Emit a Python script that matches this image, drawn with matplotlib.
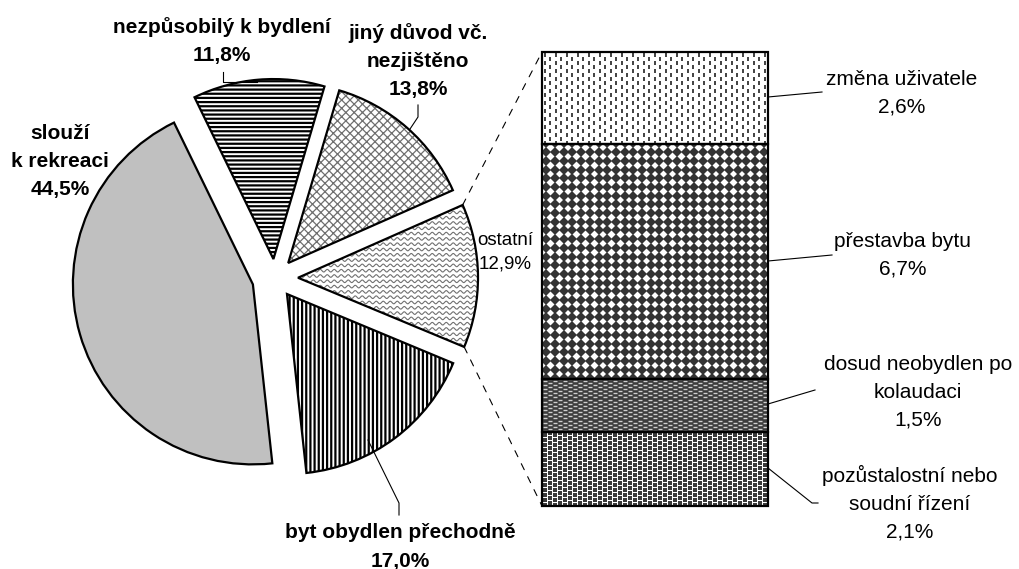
import numpy as np
import matplotlib.pyplot as plt
from matplotlib.patches import Wedge, ConnectionPatch

plt.rcParams['font.family'] = ['Liberation Sans', 'DejaVu Sans']
plt.rcParams['hatch.linewidth'] = 1.6

# pie: slices counterclockwise from the top-left edge
pie_labels = ['slouží\nk rekreaci', 'byt obydlen přechodně', 'ostatní',
              'jiný důvod vč.\nnezjištěno', 'nezpůsobilý k bydlení']
pie_values = [44.5, 17.0, 12.9, 13.8, 11.8]

# breakdown of "ostatní", bottom to top
bar_labels = ['pozůstalostní nebo\nsoudní řízení', 'dosud neobydlen po\nkolaudaci',
              'přestavba bytu', 'změna uživatele']
bar_values = [2.1, 1.5, 6.7, 2.6]


def pct(v):
    return f'{v:.1f}%'.replace('.', ',')


W, H = 1019, 569
fig = plt.figure(figsize=(W / 100, H / 100), dpi=100)
ax = fig.add_axes([0, 0, 1, 1])


def Y(y):
    return H - y


# --- pie ---
wedges, _ = ax.pie(pie_values, explode=[23, 20, 23, 20, 19], startangle=116,
                   counterclock=True, center=(275, Y(278)), radius=180,
                   colors=['#c0c0c0', 'white', 'white', 'white', 'white'],
                   hatch=['', '||||', '', 'xxxx', '----'],
                   wedgeprops=dict(linewidth=0))
hatch_colors = ['#c0c0c0', 'black', 'white', '#6f6f6f', 'black']
for w, hc in zip(wedges, hatch_colors):
    w.set_edgecolor(hc)
if hasattr(wedges[3], 'set_hatch_linewidth'):
    wedges[3].set_hatch_linewidth(0.9)

# wavy fill for "ostatní"
xs = np.arange(280, 490, 0.5)
for yy in np.arange(170, 390, 5.3):
    ln, = ax.plot(xs, Y(yy + 1.3 * np.sin(2 * np.pi * xs / 7)), color='#707070', lw=0.8)
    ln.set_clip_path(wedges[2])

for w in wedges:
    ax.add_patch(Wedge(w.center, w.r, w.theta1, w.theta2, fill=False,
                       edgecolor='black', linewidth=1.6, zorder=3))

ax.set_xlim(0, W)
ax.set_ylim(0, H)
ax.set_aspect('equal')
ax.axis('off')

# pie labels
bold = dict(ha='center', va='center', fontsize=15, fontweight='bold', linespacing=1.6)
ax.text(60, Y(161), f'{pie_labels[0]}\n{pct(pie_values[0])}', **bold)
ax.text(400, Y(547), f'{pie_labels[1]}\n{pct(pie_values[1])}', **bold)
ax.text(505, Y(252), f'{pie_labels[2]}\n{pct(pie_values[2])}', ha='center', va='center',
        fontsize=13.5, linespacing=1.5)
ax.text(418, Y(61), f'{pie_labels[3]}\n{pct(pie_values[3])}', **bold)
ax.text(222, Y(41), f'{pie_labels[4]}\n{pct(pie_values[4])}', **bold)

leader = dict(color='black', lw=0.8)
ax.plot([223, 223, 257], [Y(72), Y(82), Y(82)], **leader)
ax.plot([418, 418, 410], [Y(105), Y(117), Y(129)], **leader)
ax.plot([368, 399, 399], [Y(440), Y(503), Y(515)], **leader)
ax.plot([768, 822], [Y(97), Y(92)], **leader)
ax.plot([768, 832], [Y(261), Y(255)], **leader)
ax.plot([768, 815], [Y(404), Y(390)], **leader)
ax.plot([768, 812, 818], [Y(468), Y(503), Y(503)], **leader)

# --- bar ---
bx = fig.add_axes([542 / W, Y(506) / H, 226 / W, 454 / H])
bottoms = np.concatenate([[0], np.cumsum(bar_values)[:-1]])
face = ['white', '#3c3c3c', 'white', 'white']
bars = bx.bar(0, bar_values, bottom=bottoms, width=1, color=face, linewidth=0)
bx.set_xlim(-0.5, 0.5)
bx.set_ylim(0, sum(bar_values))
bx.axis('off')

sx = 226.0
sy = 454.0 / sum(bar_values)


def pattern(bar, dx, dy, stagger, **kw):
    x0, y0 = bar.get_x(), bar.get_y()
    w, h = bar.get_width(), bar.get_height()
    cols = np.arange(0, w * sx + dx, dx)
    rows = np.arange(0, h * sy + dy, dy)
    px, py = [], []
    for i, c in enumerate(cols):
        off = stagger if i % 2 else 0
        for r in rows:
            px.append(x0 + (c + dx / 2) / sx)
            py.append(y0 + (r + off + 1) / sy)
    ln, = bx.plot(px, py, linestyle='none', zorder=2, **kw)
    ln.set_clip_path(bar)


pattern(bars[0], 5.0, 5.0, 2.5, marker='s', markersize=2.4, color='#3a3a3a', mew=0)
pattern(bars[1], 5.0, 4.2, 2.1, marker='_', markersize=2.4, color='#cfcfcf', mew=1.0)
pattern(bars[2], 8.7, 8.7, 0, marker='D', markersize=5.2, color='#333333', mew=0)
pattern(bars[3], 5.5, 8.0, 4.0, marker='|', markersize=2.8, color='#333333', mew=1.3)

bx.bar(0, bar_values, bottom=bottoms, width=1, fill=False, edgecolor='black',
       linewidth=1.6, zorder=3, clip_on=False)

for b, lab, v, (lx, ly) in zip(bars, bar_labels, bar_values,
                               [(910, 503), (918, 392), (903, 255), (902, 93)]):
    ax.text(lx, Y(ly), f'{lab}\n{pct(v)}', ha='center', va='center',
            fontsize=15, linespacing=1.6)

# dashed connectors from "ostatní" slice to the bar
w = wedges[2]
for ang, corner in [(w.theta2, (0, 1)), (w.theta1, (0, 0))]:
    p = (w.center[0] + w.r * np.cos(np.radians(ang)),
         w.center[1] + w.r * np.sin(np.radians(ang)))
    con = ConnectionPatch(xyA=p, coordsA=ax.transData, xyB=corner, coordsB=bx.transAxes,
                          color='black', lw=0.8, linestyle=(0, (6, 7)))
    fig.add_artist(con)

fig.savefig('out.png', dpi=100)
